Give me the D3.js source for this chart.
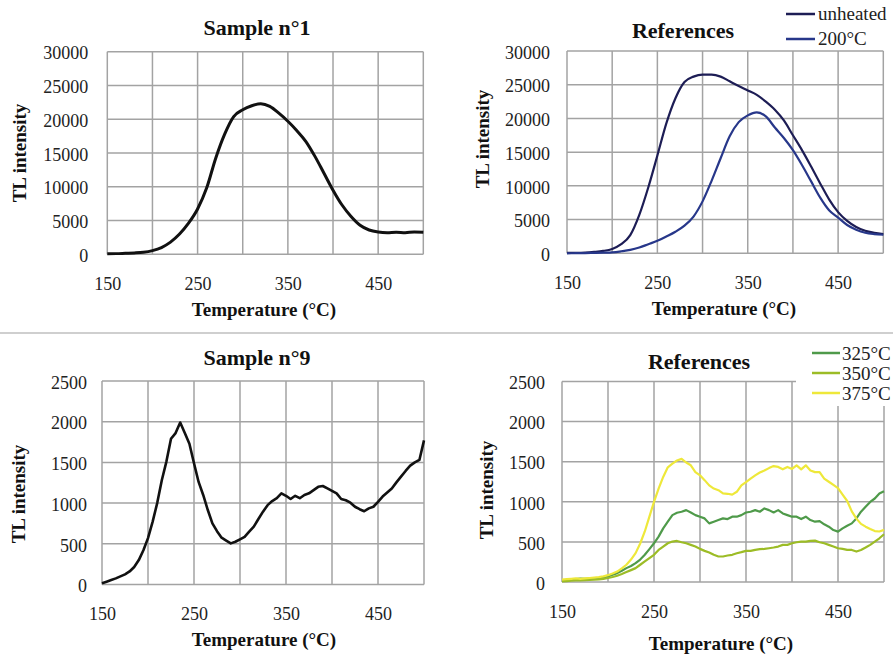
<!DOCTYPE html>
<html>
<head>
<meta charset="utf-8">
<script src="https://cdn.jsdelivr.net/npm/d3@7"></script>
<style>
  body { margin: 0; background: #fff; }
  svg { display: block; font-family: "Liberation Serif", "Times New Roman", serif; }
  .grid line { stroke: #a3a3a3; stroke-width: 1.5; }
  .tick text { fill: #222; font-size: 18px; font-family: "Liberation Serif", "Times New Roman", serif; }
  .title { font-weight: bold; font-size: 22px; fill: #111; text-anchor: middle; }
  .axtitle { font-weight: bold; font-size: 19px; fill: #111; text-anchor: middle; }
  .legend text { font-size: 19px; fill: #222; }
</style>
</head>
<body>
<script>
// temperatures (°C)
var temps10 = d3.range(150, 501, 10);
var temps5 = d3.range(150, 501, 5);

var xGrid = [150, 200, 250, 300, 350, 400, 450, 500];
var xLabels = [150, 250, 350, 450];
var yTicksTop = [0, 5000, 10000, 15000, 20000, 25000, 30000];
var yTicksBottom = [0, 500, 1000, 1500, 2000, 2500];

// Sample n°1 (10 °C step)
var sample1 = [80, 100, 150, 200, 300, 550, 1000, 1800, 3000, 4600, 6700, 9800, 14200, 17800,
  20400, 21400, 22000, 22300, 21900, 20900, 19700, 18300, 16700, 14500, 12000, 9500, 7300,
  5600, 4300, 3600, 3300, 3200, 3250, 3200, 3300, 3250];

// References, top (10 °C step)
var unheated = [50, 60, 100, 200, 350, 650, 1350, 2700, 5700, 9800, 14500, 19300, 23000, 25400,
  26200, 26500, 26500, 26200, 25500, 24800, 24150, 23500, 22500, 21300, 19700, 17500, 15300,
  12900, 10400, 8000, 6100, 4800, 3900, 3350, 3050, 2850];
var heated200 = [0, 20, 40, 60, 100, 150, 300, 500, 850, 1350, 1850, 2500, 3200, 4100,
  5450, 7700, 10750, 14100, 17350, 19450, 20450, 20900, 20300, 18650, 17100, 15300, 13100,
  10700, 8300, 6400, 5300, 4200, 3500, 3050, 2850, 2750];

// Sample n°9 (5 °C step)
var sample9 = [15, 35, 55, 75, 100, 125, 160, 215, 300, 420, 570, 770, 1000, 1280, 1510, 1790,
  1860, 1990, 1860, 1730, 1490, 1260, 1100, 915, 750, 655, 575, 540, 505, 525, 555, 585, 650,
  710, 805, 895, 975, 1025, 1060, 1120, 1090, 1050, 1090, 1060, 1100, 1120, 1160, 1200, 1210,
  1180, 1150, 1120, 1050, 1035, 1005, 955, 925, 900, 935, 955, 1015, 1080, 1130, 1180, 1255,
  1325, 1395, 1460, 1500, 1530, 1770];

// References, bottom (5 °C step)
var ref325 = [17, 20, 29, 35, 41, 38, 41, 45, 50, 58, 70, 90, 111, 140, 173, 200, 235, 280, 339,
  410, 483, 566, 669, 752, 834, 863, 876, 896, 867, 834, 814, 793, 731, 752, 772, 793, 785, 814,
  814, 834, 867, 876, 896, 876, 917, 896, 867, 896, 855, 834, 814, 814, 785, 814, 772, 752, 760,
  719, 690, 648, 628, 669, 702, 731, 793, 876, 938, 999, 1041, 1103, 1132];
var ref350 = [8, 12, 17, 19, 21, 23, 25, 29, 33, 40, 50, 62, 78, 100, 124, 148, 173, 215, 256,
  298, 339, 400, 442, 483, 504, 512, 496, 483, 463, 442, 413, 388, 368, 339, 318, 318, 330, 339,
  359, 372, 388, 388, 400, 409, 413, 421, 430, 442, 463, 463, 483, 496, 504, 504, 512, 516, 496,
  483, 463, 442, 421, 413, 400, 400, 380, 400, 430, 463, 504, 545, 595];
var ref375 = [30, 35, 40, 45, 40, 45, 50, 55, 60, 70, 85, 105, 130, 170, 215, 280, 360, 480, 630,
  815, 1000, 1165, 1310, 1430, 1475, 1515, 1535, 1490, 1455, 1370, 1330, 1270, 1205, 1165, 1145,
  1105, 1100, 1090, 1125, 1205, 1245, 1290, 1330, 1365, 1390, 1420, 1445, 1435, 1405, 1435, 1410,
  1455, 1405, 1455, 1390, 1370, 1370, 1290, 1250, 1210, 1170, 1090, 1010, 880, 790, 725, 690,
  660, 635, 630, 650];

var serif = '"Liberation Serif", "Times New Roman", serif';
var svg = d3.select('body').append('svg').attr('width', 893).attr('height', 655);

// separator between the two rows
svg.append('line').attr('x1', 0).attr('x2', 893).attr('y1', 333).attr('y2', 333)
  .attr('stroke', '#cfcfcf').attr('stroke-width', 2);

function drawPanel(p) {
  var x = d3.scaleLinear().domain([150, 500]).range([p.left, p.right]);
  var y = d3.scaleLinear().domain([0, p.yMax]).range([p.bottom, p.top]);
  var g = svg.append('g');

  var grid = g.append('g').attr('class', 'grid');
  grid.selectAll('.v').data(xGrid).enter().append('line')
    .attr('x1', function(d) { return x(d); }).attr('x2', function(d) { return x(d); })
    .attr('y1', p.top).attr('y2', p.bottom);
  grid.selectAll('.h').data(p.yTicks).enter().append('line')
    .attr('x1', p.left).attr('x2', p.right)
    .attr('y1', function(d) { return y(d); }).attr('y2', function(d) { return y(d); });

  var yAxis = g.append('g').attr('transform', 'translate(' + p.left + ',0)')
    .call(d3.axisLeft(y).tickValues(p.yTicks).tickSize(0).tickPadding(p.yPad).tickFormat(d3.format('d')))
    .attr('font-family', serif).attr('font-size', 18);
  yAxis.select('.domain').remove();
  yAxis.selectAll('text').attr('dy', '0.4em').attr('font-family', serif);

  var xAxis = g.append('g').attr('transform', 'translate(0,' + p.bottom + ')')
    .call(d3.axisBottom(x).tickValues(xLabels).tickSize(0).tickPadding(23))
    .attr('font-family', serif).attr('font-size', 18);
  xAxis.select('.domain').remove();
  xAxis.selectAll('text').attr('font-family', serif);

  p.series.forEach(function(s) {
    var line = d3.line()
      .x(function(d) { return x(d[0]); })
      .y(function(d) { return y(d[1]); })
      .curve(s.smooth ? d3.curveMonotoneX : d3.curveLinear);
    g.append('path')
      .datum(d3.zip(s.temps, s.values))
      .attr('fill', 'none')
      .attr('stroke', s.color)
      .attr('stroke-width', s.width)
      .attr('stroke-linejoin', 'round')
      .attr('d', line);
  });

  g.append('text').attr('class', 'title').attr('x', p.titleX).attr('y', p.titleY).text(p.title);
  g.append('text').attr('class', 'axtitle').attr('x', p.xTitleX).attr('y', p.xTitleY).text('Temperature (°C)');
  g.append('text').attr('class', 'axtitle')
    .attr('transform', 'translate(' + p.yTitleX + ',' + p.yTitleY + ') rotate(-90)')
    .text('TL intensity');
  return g;
}

drawPanel({
  left: 107.3, right: 423.3, top: 51.7, bottom: 254.3, yMax: 30000, yTicks: yTicksTop, yPad: 19,
  title: 'Sample n°1', titleX: 257, titleY: 35, xTitleX: 264, xTitleY: 316, yTitleX: 26, yTitleY: 153,
  series: [{ temps: temps10, values: sample1, color: '#111', width: 3, smooth: true }]
});

drawPanel({
  left: 567, right: 883.3, top: 51, bottom: 253.3, yMax: 30000, yTicks: yTicksTop, yPad: 17,
  title: 'References', titleX: 683, titleY: 38, xTitleX: 724, xTitleY: 315, yTitleX: 489, yTitleY: 139,
  series: [
    { temps: temps10, values: unheated, color: '#1d1d55', width: 2.2, smooth: true },
    { temps: temps10, values: heated200, color: '#27378a', width: 2.2, smooth: true }
  ]
});

drawPanel({
  left: 102, right: 424, top: 381, bottom: 584.5, yMax: 2500, yTicks: yTicksBottom, yPad: 15,
  title: 'Sample n°9', titleX: 257, titleY: 365, xTitleX: 264, xTitleY: 646, yTitleX: 25, yTitleY: 494,
  series: [{ temps: temps5, values: sample9, color: '#111', width: 2.6 }]
});

drawPanel({
  left: 562, right: 884, top: 381.5, bottom: 582, yMax: 2500, yTicks: yTicksBottom, yPad: 17,
  title: 'References', titleX: 699, titleY: 369, xTitleX: 721, xTitleY: 650, yTitleX: 493, yTitleY: 490,
  series: [
    { temps: temps5, values: ref325, color: '#4f9a4a', width: 2.2 },
    { temps: temps5, values: ref350, color: '#9cbc26', width: 2.2 },
    { temps: temps5, values: ref375, color: '#eee83a', width: 2.2 }
  ]
});

// legends
var legendTop = svg.append('g').attr('class', 'legend');
[{ name: 'unheated', color: '#1d1d55', y: 14 }, { name: '200°C', color: '#27378a', y: 39 }].forEach(function(d) {
  legendTop.append('line').attr('x1', 786).attr('x2', 815).attr('y1', d.y).attr('y2', d.y)
    .attr('stroke', d.color).attr('stroke-width', 2.5);
  legendTop.append('text').attr('x', 818).attr('y', d.y + 6).text(d.name);
});

var legendBottom = svg.append('g').attr('class', 'legend');
legendBottom.append('rect').attr('x', 796).attr('y', 336).attr('width', 97).attr('height', 70).attr('fill', '#fff');
[{ name: '325°C', color: '#4f9a4a', y: 353 }, { name: '350°C', color: '#9cbc26', y: 373 },
 { name: '375°C', color: '#eee83a', y: 393 }].forEach(function(d) {
  legendBottom.append('line').attr('x1', 812).attr('x2', 840).attr('y1', d.y).attr('y2', d.y)
    .attr('stroke', d.color).attr('stroke-width', 2.5);
  legendBottom.append('text').attr('x', 842).attr('y', d.y + 7).text(d.name);
});
</script>
</body>
</html>
